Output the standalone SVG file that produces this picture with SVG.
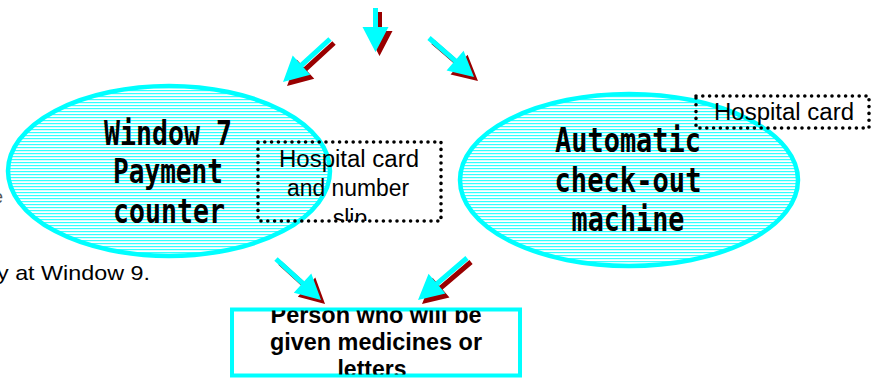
<svg xmlns="http://www.w3.org/2000/svg" width="872" height="379" viewBox="0 0 872 379">
<style>
.oval{fill:url(#stripes);stroke:#00ffff;stroke-width:4.5}
.big{font-family:"DejaVu Sans Mono",monospace;font-weight:bold;font-size:34px;fill:#000;text-anchor:middle}
.lbl{font-family:"Liberation Sans",Arial,sans-serif;font-size:23px;fill:#000;text-anchor:middle}
.bold{font-family:"Liberation Sans",Arial,sans-serif;font-weight:bold;font-size:23px;fill:#000;text-anchor:middle}
.dots{fill:none;stroke:#000;stroke-width:3.6;stroke-linecap:round;stroke-dasharray:0 6.8}
.cy{fill:#00ffff}
.sh{fill:#990000}
.side{font-family:"Liberation Sans",Arial,sans-serif;font-size:21px;fill:#000}
</style>
<defs>
<pattern id="stripes" patternUnits="userSpaceOnUse" width="8" height="3">
<rect width="8" height="3" fill="#fff"/>
<rect width="8" height="1.2" fill="#33ffff"/>
</pattern>
<clipPath id="clipSlip"><rect x="250" y="140" width="200" height="81"/></clipPath>
<clipPath id="clipRect"><rect x="232" y="310.5" width="288" height="64"/></clipPath>
</defs>
<rect width="872" height="379" fill="#fff"/>

<text x="-7" y="203" font-family="Liberation Sans,Arial,sans-serif" font-size="18" fill="#555">e</text>
<text class="side" x="-3" y="280" textLength="153" lengthAdjust="spacingAndGlyphs">y at Window 9.</text>

<g id="node-window7">
<ellipse class="oval" cx="169" cy="171" rx="161" ry="85"/>
<text class="big" x="168" y="145" textLength="128" lengthAdjust="spacingAndGlyphs">Window 7</text>
<text class="big" x="168" y="183" textLength="110" lengthAdjust="spacingAndGlyphs">Payment</text>
<text class="big" x="169" y="223" textLength="112" lengthAdjust="spacingAndGlyphs">counter</text>
</g>

<g id="node-automatic">
<ellipse class="oval" cx="629" cy="180" rx="169" ry="86"/>
<text class="big" x="628" y="152" textLength="146" lengthAdjust="spacingAndGlyphs">Automatic</text>
<text class="big" x="628" y="192" textLength="147" lengthAdjust="spacingAndGlyphs">check-out</text>
<text class="big" x="628" y="231" textLength="113" lengthAdjust="spacingAndGlyphs">machine</text>
</g>

<g id="note-card-slip">
<rect class="dots" x="258" y="142" width="183" height="79"/>
<text class="lbl" x="349" y="167" textLength="140" lengthAdjust="spacingAndGlyphs">Hospital card</text>
<text class="lbl" x="348" y="196" textLength="122" lengthAdjust="spacingAndGlyphs">and number</text>
<text class="lbl" x="350" y="226" clip-path="url(#clipSlip)">slip</text>
</g>

<g id="note-card">
<rect class="dots" x="696" y="96" width="173" height="32"/>
<text class="lbl" x="784" y="120" textLength="140" lengthAdjust="spacingAndGlyphs">Hospital card</text>
</g>

<g id="node-person">
<rect x="232" y="309.5" width="288" height="66" fill="#fff" stroke="#00ffff" stroke-width="4"/>
<g clip-path="url(#clipRect)">
<text class="bold" x="376" y="323" textLength="211" lengthAdjust="spacingAndGlyphs">Person who will be</text>
<text class="bold" x="376" y="350" textLength="212" lengthAdjust="spacingAndGlyphs">given medicines or</text>
<text class="bold" x="372" y="377">letters</text>
</g>
</g>

<g id="connectors">
<g transform="translate(4,4)">
<polygon class="sh" transform="translate(375.5,8) rotate(90)" points="0,-2.5 19,-2.5 19,-13 44,0 19,13 19,2.5 0,2.5"/>
<polygon class="sh" transform="translate(330,39) rotate(137.5)" points="0,-2.5 38.7,-2.5 38.7,-13 63.7,0 38.7,13 38.7,2.5 0,2.5"/>
<polygon class="sh" transform="translate(429,38) rotate(40.9)" points="0,-2.5 34.5,-2.5 34.5,-13 59.5,0 34.5,13 34.5,2.5 0,2.5"/>
<polygon class="sh" transform="translate(276,259) rotate(42.3)" points="0,-2.5 35.9,-2.5 35.9,-13 60.9,0 35.9,13 35.9,2.5 0,2.5"/>
<polygon class="sh" transform="translate(467,258) rotate(139.4)" points="0,-2.5 39.5,-2.5 39.5,-13 64.5,0 39.5,13 39.5,2.5 0,2.5"/>
</g>
<polygon class="cy" transform="translate(375.5,8) rotate(90)" points="0,-2.5 19,-2.5 19,-13 44,0 19,13 19,2.5 0,2.5"/>
<polygon class="cy" transform="translate(330,39) rotate(137.5)" points="0,-2.5 38.7,-2.5 38.7,-13 63.7,0 38.7,13 38.7,2.5 0,2.5"/>
<polygon class="cy" transform="translate(429,38) rotate(40.9)" points="0,-2.5 34.5,-2.5 34.5,-13 59.5,0 34.5,13 34.5,2.5 0,2.5"/>
<polygon class="cy" transform="translate(276,259) rotate(42.3)" points="0,-2.5 35.9,-2.5 35.9,-13 60.9,0 35.9,13 35.9,2.5 0,2.5"/>
<polygon class="cy" transform="translate(467,258) rotate(139.4)" points="0,-2.5 39.5,-2.5 39.5,-13 64.5,0 39.5,13 39.5,2.5 0,2.5"/>
</g>
</svg>
